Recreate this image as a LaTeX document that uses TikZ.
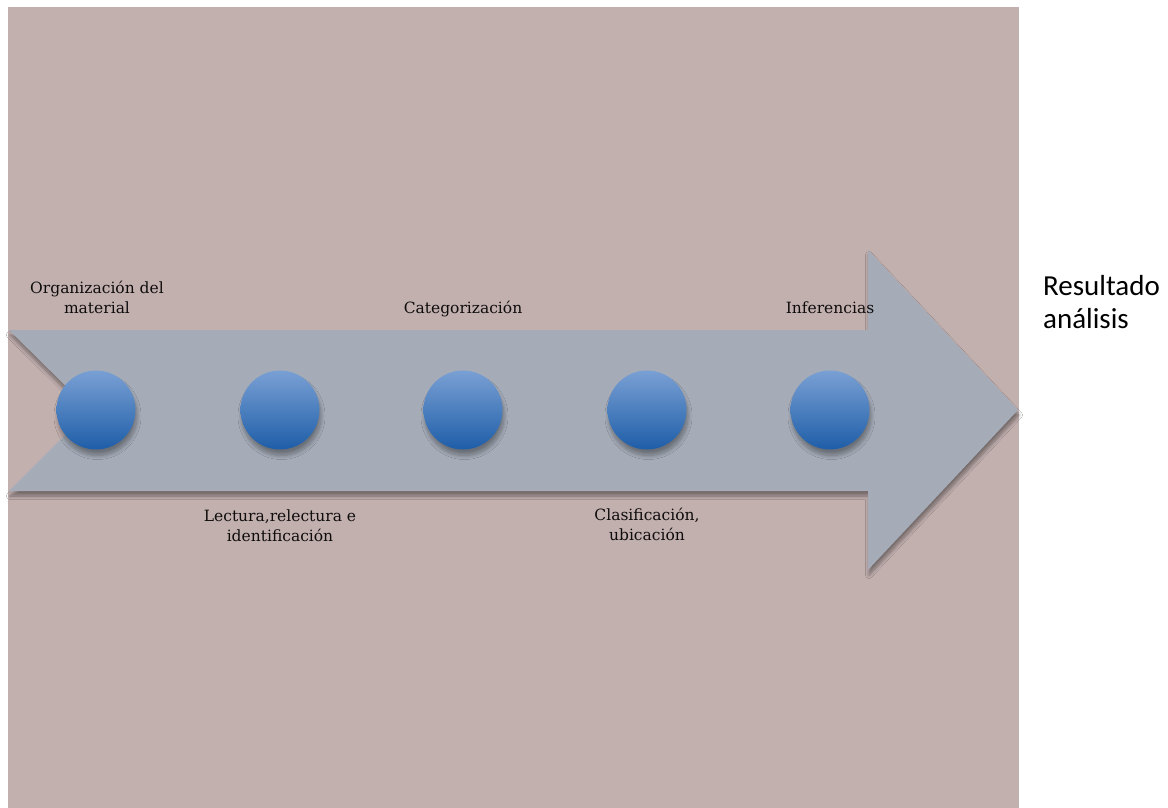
\documentclass[tikz,border=0pt]{standalone}
\usepackage{fontspec}
\usetikzlibrary{shadows.blur}
\newfontfamily\labelfont{DejaVu Serif}
\newfontfamily\notefont{Carlito}
\definecolor{sheet}{RGB}{194,176,175}
\definecolor{band}{RGB}{165,172,184}
\definecolor{dotlight}{RGB}{122,160,212}
\definecolor{dotdark}{RGB}{30,94,168}
\definecolor{ink}{RGB}{15,12,12}
\tikzset{
  stepdot/.style={circle, minimum size=79pt, inner sep=0pt, draw=none,
    top color=dotlight, bottom color=dotdark,
    blur shadow={shadow xshift=1.5pt, shadow yshift=-6pt, shadow blur radius=4pt,
      shadow blur steps=10, shadow opacity=35}},
  steplabel/.style={font=\labelfont\fontsize{15.5}{19.5}\selectfont, text=ink,
    align=center, inner sep=0pt, anchor=base},
  resultnote/.style={font=\notefont\fontsize{29}{33}\selectfont, text=black,
    align=left, inner sep=0pt, anchor=base west}
}
\begin{document}
\begin{tikzpicture}[x=1pt, y=-1pt]
  \useasboundingbox (0,0) rectangle (1168,808);
  \fill[white] (0,0) rectangle (1168,808);
  % sheet
  \fill[sheet] (8,7) rectangle (1019,808);
  % process arrow
  \fill[band, blur shadow={shadow xshift=1pt, shadow yshift=-5pt, shadow blur radius=3.5pt,
      shadow blur steps=8, shadow opacity=40}]
    (9,330) -- (868,330) -- (868,250) -- (1018,410) -- (868,570) -- (868,491)
    -- (9,491) -- (90,410) -- cycle;
  % steps
  \node[stepdot] (d1) at (96,410) {};
  \node[stepdot] (d2) at (280,410) {};
  \node[stepdot] (d3) at (463,410) {};
  \node[stepdot] (d4) at (647,410) {};
  \node[stepdot] (d5) at (830,410) {};
  % labels (anchored on the last baseline)
  \node[steplabel] (l1) at (97,313) {Organización del\\material};
  \node[steplabel] (l2) at (280,541) {Lectura,relectura e\\identificación};
  \node[steplabel] (l3) at (463,313) {Categorización};
  \node[steplabel] (l4) at (647,540) {Clasificación,\\ubicación};
  \node[steplabel] (l5) at (830,313) {Inferencias};
  % result
  \node[resultnote] (res) at (1043,328) {Resultado\\análisis};
\end{tikzpicture}
\end{document}
